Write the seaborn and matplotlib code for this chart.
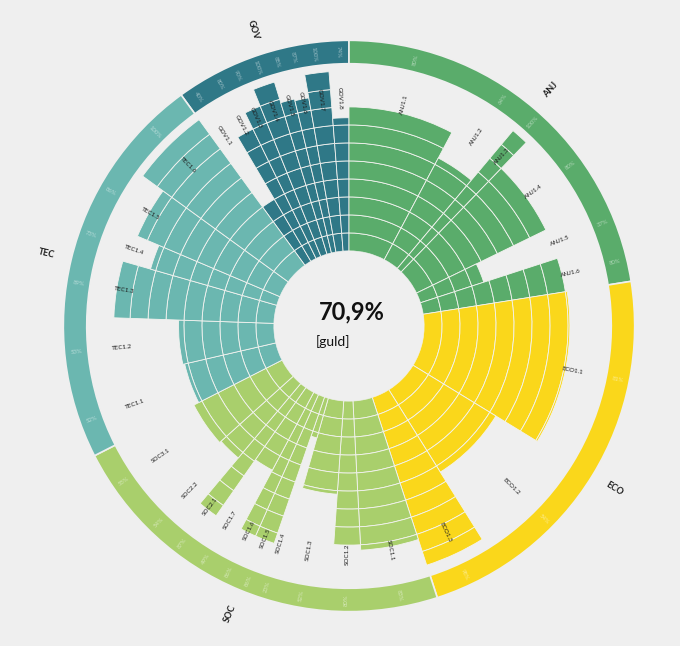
import numpy as np
import matplotlib.pyplot as plt
import seaborn as sns

# category order runs clockwise, GOV ends at 12 o'clock
categories = ["GOV", "ANJ", "ECO", "SOC", "TEC"]
cat_colors = ["#2f7887", "#5aac6b", "#fad71b", "#a9cf6c", "#6bb7b0"]

gov_names = ["GOV1.1", "GOV1.2", "GOV1.3", "GOV1.4", "GOV1.5", "GOV1.6", "GOV1.7", "GOV1.8"]
gov_weights = [5.5, 4.5, 4, 5, 3.5, 3.5, 5.5, 4.5]
gov_scores = [40, 80, 90, 100, 88, 87, 100, 74]

anj_names = ["ANJ1.1", "ANJ1.2", "ANJ1.3", "ANJ1.4", "ANJ1.5", "ANJ1.6"]
anj_weights = [28, 12, 4, 20, 8, 9]
anj_scores = [80, 64, 100, 80, 37, 80]

eco_names = ["ECO1.1", "ECO1.2", "ECO1.3"]
eco_weights = [40.5, 26.5, 14]
eco_scores = [81, 54, 98]

soc_names = ["SOC1.1", "SOC1.2", "SOC1.3", "SOC1.4", "SOC1.5",
             "SOC1.6", "SOC1.7", "SOC2.1", "SOC2.2", "SOC3.1"]
soc_weights = [15, 7, 12, 3, 5, 4, 7, 5, 8, 15]
soc_scores = [83, 80, 52, 23, 86, 86, 49, 87, 54, 55]

tec_names = ["TEC1.1", "TEC1.2", "TEC1.3", "TEC1.4", "TEC1.5", "TEC1.6"]
tec_weights = [14, 15, 14, 7, 13, 18]
tec_scores = [52, 53, 89, 73, 86, 100]

total_label = "70,9%"
total_sub = "[guld]"

groups = [
    (gov_names, gov_weights, gov_scores),
    (anj_names, anj_weights, anj_scores),
    (eco_names, eco_weights, eco_scores),
    (soc_names, soc_weights, soc_scores),
    (tec_names, tec_weights, tec_scores),
]

BG = "#efefef"
GRID = "#f3f3f0"
HOLE = 41.7          # radial origin offset, in score units
RING_BOTTOM = 104
RING_HEIGHT = 13

sns.set_theme(style="white", rc={"axes.facecolor": BG, "figure.facecolor": BG})
plt.rcParams["font.family"] = ["Lato", "DejaVu Sans"]


def radial_rotation(theta_deg):
    rot = (90 - theta_deg) % 360
    if 90 < rot < 270:
        rot -= 180
    return rot


fig = plt.figure(figsize=(6.8, 6.46), dpi=100)
ax = fig.add_axes([59 / 680, 30 / 646, 580 / 680, 580 / 646], projection="polar")
ax.set_theta_zero_location("N")
ax.set_theta_direction(-1)
ax.set_rorigin(-HOLE)
ax.set_ylim(0, 119.4)
ax.axis("off")

start = -sum(gov_weights)
for (names, weights, scores), cat, col in zip(groups, categories, cat_colors):
    cat_start = start
    for name, w, s in zip(names, weights, scores):
        th = np.deg2rad(start)
        wd = np.deg2rad(w)
        # segmented bar: one block per 10 %
        for k in range(0, s, 10):
            ax.bar(th, min(10, s - k), width=wd, bottom=k, align="edge",
                   color=col, edgecolor=GRID, linewidth=0.6)
        mid = start + w / 2
        ax.text(np.deg2rad(mid), 85, name, fontsize=4.6, color="#1e1e1e",
                rotation=radial_rotation(mid), rotation_mode="anchor",
                ha="center", va="center")
        ax.text(np.deg2rad(mid), RING_BOTTOM + RING_HEIGHT / 2, f"{s}%",
                fontsize=4.3, color="white", alpha=0.5,
                rotation=radial_rotation(mid), rotation_mode="anchor",
                ha="center", va="center")
        start += w
    span = start - cat_start
    ax.bar(np.deg2rad(cat_start), RING_HEIGHT, width=np.deg2rad(span),
           bottom=RING_BOTTOM, align="edge", color=col, edgecolor=BG, linewidth=1.2)
    cmid = cat_start + span / 2
    ax.text(np.deg2rad(cmid), 131, cat, fontsize=6.5, fontweight="bold",
            color="#1e1e1e", rotation=radial_rotation(cmid),
            rotation_mode="anchor", ha="center", va="center", clip_on=False)

ax.text(0.505, 0.524, total_label, transform=ax.transAxes, fontsize=17,
        fontweight="bold", color="#111111", ha="center", va="center")
ax.text(0.443, 0.474, total_sub, transform=ax.transAxes, fontsize=10,
        color="#111111", ha="left", va="center")

fig.savefig("out.png", dpi=100, facecolor=BG)
